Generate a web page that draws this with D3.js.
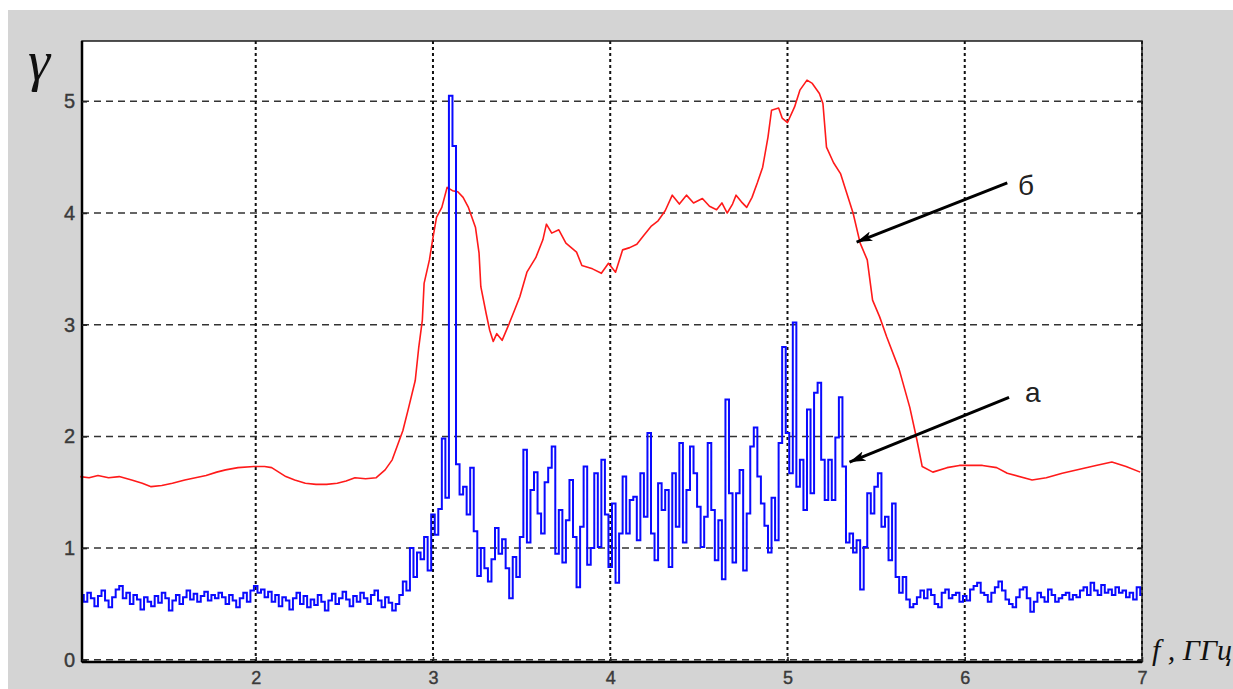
<!DOCTYPE html>
<html>
<head>
<meta charset="utf-8">
<script src="https://cdn.jsdelivr.net/npm/d3@7"></script>
<style>
  body { margin: 0; background: #fff; }
  svg { display: block; }
  .axis text { font-family: "Liberation Sans", Arial, sans-serif; font-size: 20px; fill: #3a3a3a; stroke: #3a3a3a; stroke-width: 0.4px; }
  .axis.x text { font-size: 18px; }
  .axis line { stroke: #222; stroke-width: 1.5; }
  .axis .domain { display: none; }
</style>
</head>
<body>
<script>
// ---- data ----
const xTicks = [2, 3, 4, 5, 6, 7];
const yTicks = [0, 1, 2, 3, 4, 5];

// curve "а" (blue), sampled every 0.02 GHz starting at 1.02
const blueStart = 1.02;
const blueStep = 0.02;
const blueGamma = [
  // 1.02 - 2.80
  0.58, 0.52, 0.60, 0.55, 0.48, 0.57, 0.62, 0.53, 0.47, 0.56,
  0.63, 0.66, 0.55, 0.60, 0.50, 0.58, 0.54, 0.45, 0.56, 0.52,
  0.48, 0.57, 0.51, 0.60, 0.55, 0.44, 0.53, 0.58, 0.50, 0.56,
  0.62, 0.54, 0.59, 0.52, 0.57, 0.61, 0.53, 0.58, 0.55, 0.60,
  0.56, 0.50, 0.58, 0.53, 0.47, 0.55, 0.60, 0.52, 0.62, 0.66,
  0.60, 0.63, 0.56, 0.61, 0.52, 0.58, 0.48, 0.56, 0.53, 0.45,
  0.55, 0.60, 0.50, 0.57, 0.47, 0.54, 0.49, 0.58, 0.52, 0.44,
  0.53, 0.59, 0.50, 0.55, 0.61, 0.54, 0.48, 0.57, 0.52, 0.60,
  0.55, 0.50, 0.58, 0.62, 0.53, 0.47, 0.56, 0.51, 0.44, 0.50,
  // 2.82 - 3.50
  0.58, 0.70, 0.62, 1.00, 0.74, 0.96, 0.90, 1.10, 0.80, 1.30,
  1.12, 1.35, 1.98, 1.45, 5.05, 4.60, 1.75, 1.48, 1.55, 1.30,
  1.72, 1.15, 0.75, 1.00, 0.82, 0.70, 0.90, 1.18, 0.95, 1.08,
  0.82, 0.55, 0.92, 0.74, 1.10,
  // 3.52 - 4.16
  1.88, 1.05, 1.52, 1.68, 1.31, 1.13, 1.59, 1.72, 1.91, 0.95,
  1.34, 0.87, 1.25, 1.61, 1.10, 0.65, 1.19, 1.73, 0.85, 1.00,
  1.67, 1.01, 1.79, 1.30, 0.83, 1.40, 0.69, 1.13, 1.64, 1.13,
  1.43, 1.46, 1.07,
  // 4.18 - 5.70
  1.67, 1.28, 2.03, 1.13, 0.89, 1.58, 1.34, 1.52, 0.83, 1.67,
  1.19, 1.94, 1.05, 1.52, 1.91, 1.67, 1.37, 1.01, 1.28, 1.94,
  1.34, 0.89, 1.25, 0.72, 2.33, 1.49, 0.87, 1.49, 1.70, 0.80,
  1.31, 1.91, 2.08, 1.64, 1.40, 1.20, 0.96, 1.45, 1.07, 1.94,
  2.80, 2.03, 1.67, 3.02, 1.55, 1.79, 1.34, 2.24, 1.49, 2.39,
  2.48, 1.79, 1.43, 1.79, 1.43, 1.99, 2.35, 1.73, 1.05, 1.13,
  0.96, 1.07, 0.63, 1.01, 1.49, 1.31, 1.55, 1.67, 1.19, 1.28,
  0.89, 1.40, 0.74, 0.60, 0.74, 0.54, 0.47,
  // 5.72 - 7.00
  0.50, 0.56, 0.62, 0.55, 0.63, 0.58, 0.50, 0.47, 0.60, 0.63,
  0.55, 0.58, 0.60, 0.52, 0.57, 0.53, 0.63, 0.66, 0.69, 0.60,
  0.58, 0.52, 0.60, 0.65, 0.70, 0.62, 0.54, 0.50, 0.47, 0.56,
  0.63, 0.65, 0.55, 0.43, 0.52, 0.60, 0.56, 0.52, 0.63, 0.58,
  0.52, 0.55, 0.58, 0.60, 0.54, 0.58, 0.56, 0.62, 0.65, 0.58,
  0.69, 0.62, 0.58, 0.67, 0.60, 0.63, 0.58, 0.65, 0.60, 0.62,
  0.56, 0.60, 0.54, 0.65, 0.58
];

// curve "б" (red)
const redF = [
  1.01, 1.06, 1.11, 1.17, 1.23, 1.30, 1.36, 1.41, 1.47, 1.53,
  1.60, 1.66, 1.72, 1.78, 1.83, 1.90, 1.99, 2.05, 2.09, 2.13,
  2.17, 2.22, 2.28, 2.34, 2.40, 2.46, 2.51, 2.56, 2.62, 2.68,
  2.73, 2.77, 2.80, 2.83, 2.86, 2.90, 2.92, 2.94, 2.95, 2.98,
  3.00, 3.02, 3.05, 3.08, 3.11, 3.14, 3.17, 3.20, 3.22, 3.24,
  3.26, 3.27, 3.30, 3.32, 3.34, 3.36, 3.39, 3.43, 3.46, 3.49,
  3.53, 3.58, 3.62, 3.64, 3.67, 3.71, 3.75, 3.81, 3.84, 3.90,
  3.95, 3.99, 4.03, 4.07, 4.11, 4.15, 4.19, 4.23, 4.27, 4.31,
  4.35, 4.39, 4.43, 4.47, 4.52, 4.56, 4.60, 4.63, 4.66, 4.69,
  4.71, 4.74, 4.77, 4.80, 4.83, 4.86, 4.89, 4.91, 4.95, 4.97,
  5.00, 5.04, 5.07, 5.11, 5.14, 5.18, 5.20, 5.22, 5.26, 5.30,
  5.33, 5.37, 5.41, 5.45, 5.48, 5.52, 5.56, 5.63, 5.69, 5.73,
  5.76, 5.82, 5.90, 5.97, 6.05, 6.10, 6.18, 6.24, 6.38, 6.46,
  6.55, 6.74, 6.83, 6.91, 6.99
];
const redGamma = [
  1.64, 1.63, 1.65, 1.63, 1.64, 1.61, 1.58, 1.55, 1.56, 1.58,
  1.61, 1.63, 1.65, 1.68, 1.70, 1.72, 1.73, 1.73, 1.72, 1.68,
  1.64, 1.61, 1.58, 1.57, 1.57, 1.58, 1.60, 1.63, 1.62, 1.63,
  1.70, 1.79, 1.92, 2.05, 2.24, 2.50, 2.80, 3.04, 3.37, 3.58,
  3.78, 3.96, 4.05, 4.23, 4.20, 4.19, 4.14, 4.05, 3.96, 3.87,
  3.64, 3.34, 3.10, 2.95, 2.85, 2.92, 2.86, 3.01, 3.13, 3.25,
  3.47, 3.60, 3.76, 3.90, 3.82, 3.85, 3.73, 3.65, 3.53, 3.50,
  3.46, 3.55, 3.47, 3.67, 3.69, 3.72, 3.80, 3.88, 3.93, 4.02,
  4.16, 4.08, 4.16, 4.09, 4.13, 4.06, 4.03, 4.09, 4.00, 4.08,
  4.16, 4.10, 4.05, 4.14, 4.27, 4.41, 4.68, 4.92, 4.94, 4.85,
  4.81, 4.95, 5.10, 5.19, 5.16, 5.07, 4.98, 4.59, 4.45, 4.35,
  4.20, 4.00, 3.73, 3.58, 3.22, 3.07, 2.89, 2.60, 2.26, 1.97,
  1.73, 1.68, 1.72, 1.74, 1.74, 1.74, 1.72, 1.67, 1.61, 1.63,
  1.67, 1.74, 1.77, 1.73, 1.68
];

// arrow annotations, in data units
const noteLabels = ['б', 'а'];
const noteTailF = [6.24, 6.25];
const noteTailG = [4.27, 2.35];
const noteHeadF = [5.39, 5.35];
const noteHeadG = [3.74, 1.77];
const noteTextF = [6.30, 6.34];
const noteTextG = [4.16, 2.31];

// ---- layout ----
const W = 1233, H = 689;
const margin = { left: 82, top: 41, right: 91, bottom: 27 };
const width = W - margin.left - margin.right;
const height = H - margin.top - margin.bottom;

const svg = d3.select('body').append('svg')
    .attr('width', W)
    .attr('height', H);

// grey figure background
svg.append('rect')
    .attr('x', 8).attr('y', 10)
    .attr('width', W - 8).attr('height', H - 10)
    .attr('fill', '#d4d4d4');

const g = svg.append('g').attr('transform', `translate(${margin.left},${margin.top})`);

const x = d3.scaleLinear().domain([1.02, 7]).range([0, width]);
const y = d3.scaleLinear().domain([-0.02, 5.54]).range([height, 0]);

// plot area
g.append('rect')
    .attr('width', width).attr('height', height)
    .attr('fill', '#fff');

// grid
g.append('g').selectAll('line')
    .data(yTicks)
    .enter().append('line')
    .attr('x1', 0).attr('x2', width)
    .attr('y1', d => y(d)).attr('y2', d => y(d))
    .attr('stroke', '#333')
    .attr('stroke-width', 1.5)
    .attr('stroke-dasharray', '7,5');

g.append('g').selectAll('line')
    .data(xTicks)
    .enter().append('line')
    .attr('x1', d => x(d)).attr('x2', d => x(d))
    .attr('y1', 0).attr('y2', height)
    .attr('stroke', '#111')
    .attr('stroke-width', 2)
    .attr('stroke-dasharray', '3,3');

// curves
const redLine = d3.line()
    .x((d, i) => x(redF[i]))
    .y(d => y(d));

g.append('path')
    .datum(redGamma)
    .attr('d', redLine)
    .attr('fill', 'none')
    .attr('stroke', '#ff1a1a')
    .attr('stroke-width', 1.6)
    .attr('stroke-linejoin', 'round');

// the measured trace is very dense, so draw it as steps
const blueLine = d3.line()
    .x((d, i) => x(blueStart + i * blueStep))
    .y(d => y(d))
    .curve(d3.curveStep);

g.append('path')
    .datum(blueGamma)
    .attr('d', blueLine)
    .attr('fill', 'none')
    .attr('stroke', '#0a0aff')
    .attr('stroke-width', 2)
    .attr('stroke-linejoin', 'miter');

// frame
g.append('rect')
    .attr('width', width).attr('height', height)
    .attr('fill', 'none')
    .attr('stroke', '#1a1a1a')
    .attr('stroke-width', 1.5);
g.append('line')
    .attr('x1', 0).attr('x2', 0).attr('y1', 0).attr('y2', height)
    .attr('stroke', '#000').attr('stroke-width', 2.5);
g.append('line')
    .attr('x1', 0).attr('x2', width).attr('y1', height).attr('y2', height)
    .attr('stroke', '#000').attr('stroke-width', 2.5);

// axes (inward ticks)
g.append('g')
    .attr('class', 'axis x')
    .attr('transform', `translate(0,${height})`)
    .call(d3.axisBottom(x).tickValues(xTicks).tickSize(-5).tickPadding(9).tickFormat(d3.format('d')));

g.append('g')
    .attr('class', 'axis')
    .call(d3.axisLeft(y).tickValues(yTicks).tickSize(-5).tickPadding(7).tickFormat(d3.format('d')));

g.append('g')
    .attr('class', 'axis')
    .call(d3.axisRight(y).tickValues(yTicks).tickSize(-5).tickFormat(''))
    .attr('transform', `translate(${width},0)`);

// annotations
svg.append('defs').append('marker')
    .attr('id', 'head')
    .attr('markerUnits', 'userSpaceOnUse')
    .attr('viewBox', '0 0 16 10')
    .attr('refX', 16).attr('refY', 5)
    .attr('markerWidth', 16).attr('markerHeight', 10)
    .attr('orient', 'auto')
    .append('path')
    .attr('d', 'M0,0 L16,5 L0,10 L4,5 Z')
    .attr('fill', '#000');

const notes = g.append('g');
noteLabels.forEach((lab, i) => {
    notes.append('line')
        .attr('x1', x(noteTailF[i])).attr('y1', y(noteTailG[i]))
        .attr('x2', x(noteHeadF[i])).attr('y2', y(noteHeadG[i]))
        .attr('stroke', '#000')
        .attr('stroke-width', 3)
        .attr('marker-end', 'url(#head)');
    notes.append('text')
        .attr('x', x(noteTextF[i])).attr('y', y(noteTextG[i]))
        .text(lab)
        .style('font-family', '"Liberation Sans", Arial, sans-serif')
        .style('font-size', '28px')
        .attr('fill', '#222');
});

// axis labels
svg.append('text')
    .attr('x', 28).attr('y', 80)
    .text('γ')
    .style('font-family', '"Liberation Serif", "DejaVu Serif", serif')
    .style('font-style', 'italic')
    .style('font-size', '56px')
    .attr('fill', '#111');

svg.append('text')
    .attr('x', 1152).attr('y', 660)
    .text('f , ГГц')
    .style('font-family', '"Liberation Serif", "DejaVu Serif", serif')
    .style('font-style', 'italic')
    .style('font-size', '30px')
    .attr('fill', '#111');
</script>
</body>
</html>
